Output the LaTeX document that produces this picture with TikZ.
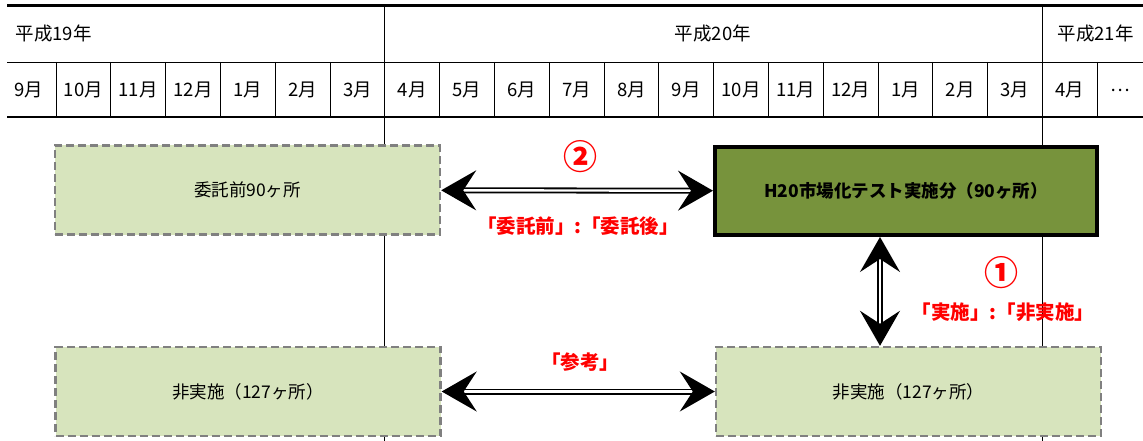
\documentclass[tikz,border=0pt]{standalone}
\usepackage{fontspec}
\setmainfont{Noto Sans CJK JP}
\usetikzlibrary{arrows.meta,positioning}
\definecolor{PaleGreen}{RGB}{215,228,189}
\definecolor{OliveGreen}{RGB}{119,147,60}
\definecolor{BorderGray}{RGB}{128,128,128}
\definecolor{NoteRed}{RGB}{255,0,0}

\begin{document}
\begin{tikzpicture}[x=1pt, y=-1pt, every node/.style={font=\fontsize{18.5}{20}\selectfont},
    grid/.style={line width=0.9pt},
    rule/.style={line width=2.6pt},
    plan/.style={draw=BorderGray, fill=PaleGreen, line width=2.4pt,
        dash pattern=on 8pt off 4pt, minimum width=385pt, minimum height=89pt,
        inner sep=0pt, font=\fontsize{17.5}{20}\selectfont},
    done/.style={draw=black, fill=OliveGreen, line width=4pt,
        minimum width=382pt, minimum height=88pt, inner sep=0pt,
        font=\fontsize{17.5}{20}\selectfont\bfseries},
    note/.style={text=NoteRed, font=\fontsize{19.5}{22}\selectfont\bfseries},
    circled/.style={text=NoteRed, font=\fontsize{34}{36}\selectfont\bfseries},
    link/.style={double=white, double distance=2.4pt, line width=1.8pt,
        {Stealth[length=35pt,width=40pt,inset=13pt]}-{Stealth[length=35pt,width=40pt,inset=13pt]}}]
\useasboundingbox (0,0) rectangle (1143,441);

% 年・月の表
\draw[rule] (7,5.5) -- (1143,5.5);
\draw[grid] (7,62) -- (1143,62);
\draw[rule] (7,117) -- (1143,117);
\draw[grid] (384.8,5.5) -- (384.8,441);
\draw[grid] (1042.4,5.5) -- (1042.4,441);
\foreach \k in {0,...,19}
    \draw[grid] ({56+54.8*\k},62) -- ({56+54.8*\k},117);

\node[anchor=west] (y19) at (12,33) {平成19年};
\node (y20) at (713,33) {平成20年};
\node[anchor=west] (y21) at (1054,33) {平成21年};

\foreach \m [count=\i from 0] in {9,10,11,12,1,2,3,4,5,6,7,8,9,10,11,12,1,2,3,4}
    \node (m\i) at ({1.2+54.8*(\i+0.5)},90) {\m 月};
\node (more) at (1120,90) {…};

% 比較の箱
\node[plan] (pre) at (247.5,190) {委託前90ヶ所};
\node[done] (test) at (906,191) {H20市場化テスト実施分（90ヶ所）};
\node[plan] (nonL) at (248,391.5) {非実施（127ヶ所）};
\node[plan] (nonR) at (908.5,391.5) {非実施（127ヶ所）};

\coordinate (vx) at (880,0);
\draw[link] (pre) -- (test);
\draw[link] (test.south -| vx) -- (nonR.north -| vx);
\draw[link] (nonL) -- (nonR);

\node[circled] (two) at (580,157) {②};
\node[note] (cmp2) at (578,226) {「委託前」:「委託後」};
\node[circled] (one) at (1001,273) {①};
\node[note] (cmp1) at (1003,312) {「実施」:「非実施」};
\node[note] (ref) at (580,362) {「参考」};
\end{tikzpicture}
\end{document}
